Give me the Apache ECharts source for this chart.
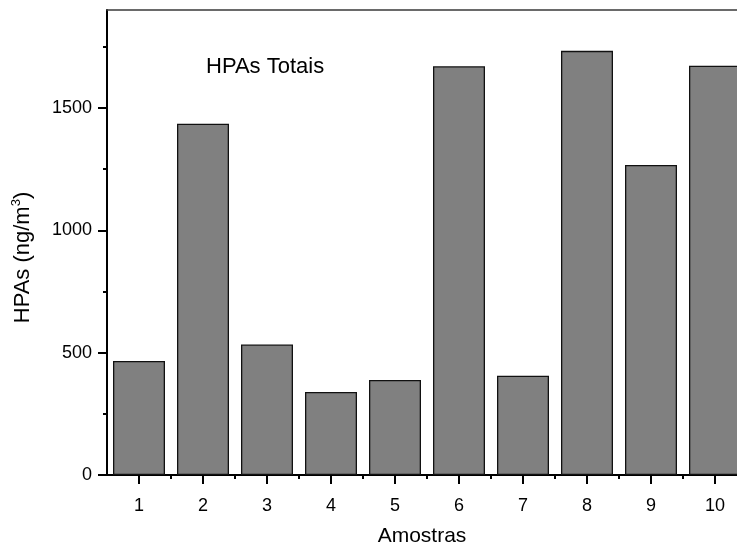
<!DOCTYPE html>
<html>
<head>
<meta charset="utf-8">
<script src="https://cdn.jsdelivr.net/npm/echarts@6/dist/echarts.min.js"></script>
<style>html,body{margin:0;padding:0;background:#fff}#c{width:737px;height:544px}</style>
</head>
<body>
<div id="c"></div>
<script>
var categories = ['1','2','3','4','5','6','7','8','9','10'];
var values = [466, 1435, 533, 339, 388, 1670, 406, 1733, 1267, 1672];
var yMajorTicks = [0, 500, 1000, 1500];
var yMinorTicks = [250, 750, 1250, 1750];
var FONT = 'Liberation Sans, Arial, sans-serif';

var xPositions = categories.map(function (c) { return Number(c); });
var xMinor = xPositions.slice(0, -1).map(function (p) { return p + 0.5; });
var barData = xPositions.map(function (p, i) { return [p, values[i]]; });
var plain = function (v) { return String(v); };

var chart = echarts.init(document.getElementById('c'), null, {renderer: 'canvas'});
chart.setOption({
  animation: false,
  backgroundColor: '#fff',
  title: {
    text: 'HPAs Totais',
    left: 201, top: 51,
    textStyle: {fontFamily: FONT, fontSize: 22, fontWeight: 'normal', color: '#000'}
  },
  grid: {left: 107, top: 10, right: 0, height: 465, show: false, containLabel: false, outerBoundsMode: 'none'},
  xAxis: [{
    type: 'value', min: 0.5, max: 10.34375, position: 'bottom',
    name: 'Amostras', nameLocation: 'middle', nameGap: 51,
    nameTextStyle: {fontFamily: FONT, fontSize: 21, color: '#000'},
    axisLine: {show: true, onZero: false, lineStyle: {color: '#000', width: 2}},
    axisTick: {show: true, inside: false, length: 9, customValues: xPositions, lineStyle: {color: '#000', width: 2}},
    axisLabel: {fontFamily: FONT, fontSize: 18, color: '#000', margin: 22, customValues: xPositions, formatter: plain},
    splitLine: {show: false}
  }, {
    type: 'value', min: 0.5, max: 10.34375, position: 'bottom',
    axisLine: {show: false},
    axisTick: {show: true, inside: false, length: 4, customValues: xMinor, lineStyle: {color: '#000', width: 2}},
    axisLabel: {show: false},
    splitLine: {show: false}
  }, {
    type: 'value', min: 0.5, max: 10.34375, position: 'top',
    axisLine: {show: true, onZero: false, lineStyle: {color: '#3a3a3a', width: 1.5}},
    axisTick: {show: false},
    axisLabel: {show: false},
    splitLine: {show: false}
  }],
  yAxis: [{
    type: 'value', min: 0, max: 1900, interval: 500, position: 'left',
    name: 'HPAs (ng/m{sup|3})', nameLocation: 'middle', nameGap: 71, nameRotate: 90,
    nameTextStyle: {
      fontFamily: FONT, fontSize: 22, color: '#000', lineHeight: 26,
      padding: [0, 30, 0, 0],
      rich: {sup: {fontFamily: FONT, fontSize: 13, color: '#000', verticalAlign: 'top', lineHeight: 13}}
    },
    axisLine: {show: true, onZero: false, lineStyle: {color: '#000', width: 2}},
    axisTick: {show: true, inside: false, length: 9, customValues: yMajorTicks, lineStyle: {color: '#000', width: 2}},
    axisLabel: {fontFamily: FONT, fontSize: 18, color: '#000', margin: 15, customValues: yMajorTicks, formatter: plain},
    splitLine: {show: false}
  }, {
    type: 'value', min: 0, max: 1900, interval: 250, position: 'left',
    axisLine: {show: false},
    axisTick: {show: true, inside: false, length: 4, customValues: yMinorTicks, lineStyle: {color: '#000', width: 2}},
    axisLabel: {show: false},
    splitLine: {show: false}
  }],
  series: [{
    type: 'bar', xAxisIndex: 0, yAxisIndex: 0,
    data: barData, barWidth: 52,
    itemStyle: {color: '#808080', borderColor: '#111', borderWidth: 1.3}
  }]
});
</script>
</body>
</html>
